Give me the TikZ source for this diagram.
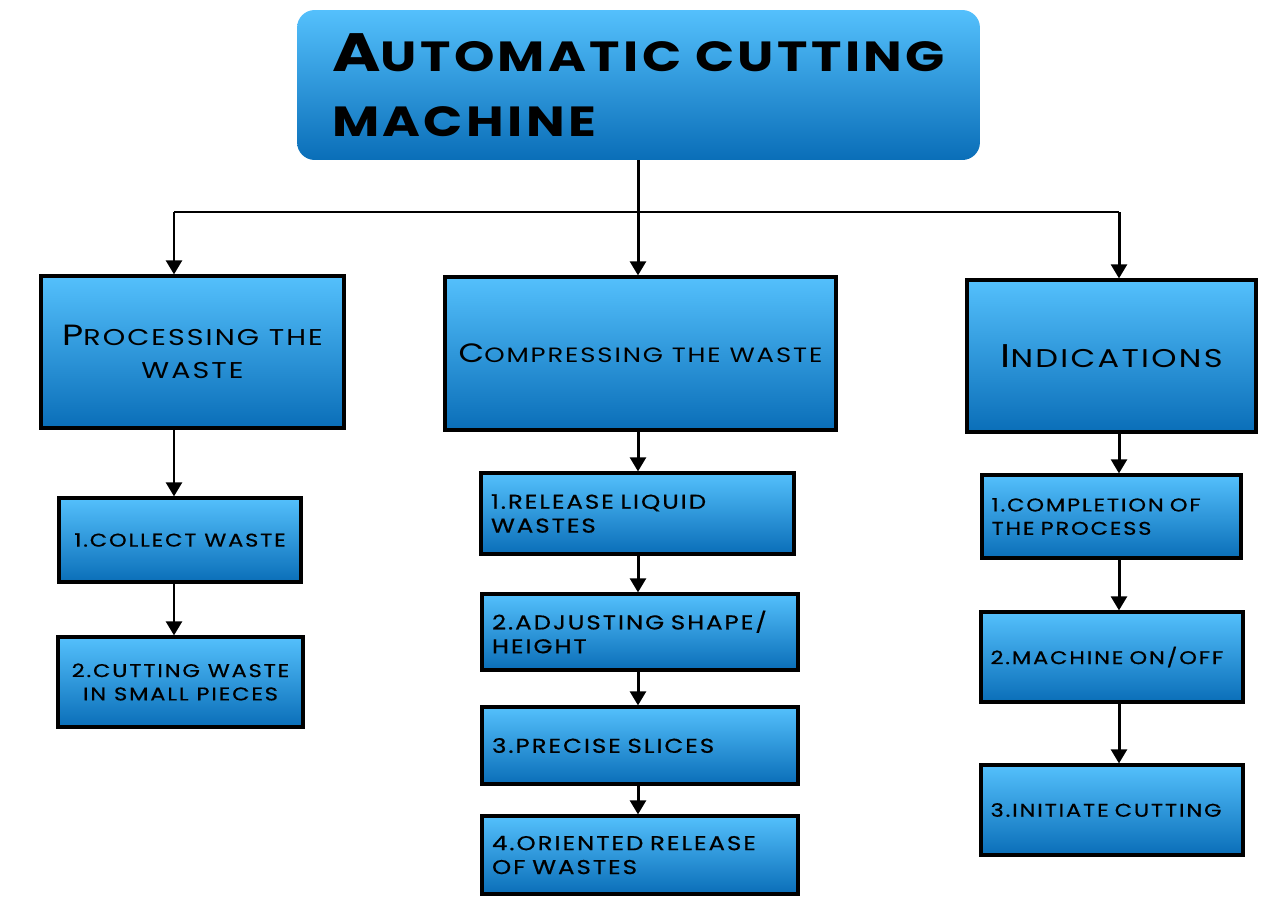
\documentclass[tikz,border=0pt]{standalone}
\usepackage{fontspec}
\newfontfamily\titlefont[FakeStretch=1.22,LetterSpace=8]{Poppins}
\newfontfamily\headfont[FakeStretch=1.25,LetterSpace=9]{Poppins}
\newfontfamily\itemfont[FakeStretch=1.22,LetterSpace=10,FakeBold=0.6]{Poppins}
\usetikzlibrary{arrows.meta,positioning}

\definecolor{boxtop}{RGB}{84,192,252}
\definecolor{boxbot}{RGB}{10,110,184}
\newcommand\bigini[1]{\scalebox{1.28}{#1}}

\begin{document}
\begin{tikzpicture}[
		x=0.02cm,
		y=-0.02cm,
		>={Triangle[width=9pt,length=8pt]},
		conn/.style={line width=1.7pt},
		arr/.style={->, line width=1.7pt},
		titlebox/.style={rounded corners=10pt, top color=boxtop, bottom color=boxbot, inner sep=0pt, align=left, font=\titlefont\bfseries\fontsize{24}{37}\selectfont},
		headbox/.style={draw=black, line width=1.8pt, top color=boxtop, bottom color=boxbot, inner sep=0pt, align=center, font=\headfont\fontsize{12}{19}\selectfont},
		itembox/.style={draw=black, line width=1.8pt, top color=boxtop, bottom color=boxbot, inner sep=0pt, align=center, font=\itemfont\fontsize{10.5}{13.3}\selectfont},
		leftitem/.style={itembox, align=left},
		miditem/.style={leftitem, font=\itemfont\fontsize{11.4}{13.6}\selectfont}
	]
	
	\useasboundingbox (0,0) rectangle (1280,903);
	
	% Title
	\node[titlebox, minimum width=13.66cm, minimum height=3cm, text width=12.26cm] (title) at (638.5,85)
	{\bigini{A}UTOMATIC CUTTING\\MACHINE};
	
	% Main branches
	\node[headbox, minimum width=6.06cm, minimum height=3.04cm, font=\headfont\fontsize{13}{19}\selectfont] (proc) at (192.5,352)
	{\bigini{P}ROCESSING THE\\WASTE};
	\node[headbox, minimum width=7.82cm, minimum height=3.06cm, font=\headfont\fontsize{11.8}{19}\selectfont] (comp) at (640.5,353.5)
	{\bigini{C}OMPRESSING THE WASTE};
	\node[headbox, minimum width=5.78cm, minimum height=3.04cm, font=\headfont\fontsize{14.6}{19}\selectfont] (ind) at (1111.5,356)
	{\bigini{I}NDICATIONS};
	
	% Processing steps
	\node[itembox, minimum width=4.84cm, minimum height=1.68cm] (collect) at (180,540)
	{1.COLLECT WASTE};
	\node[itembox, minimum width=4.9cm, minimum height=1.8cm] (cutting) at (180.5,682)
	{2.CUTTING WASTE\\IN SMALL PIECES};
	
	% Compressing steps
	\node[miditem, minimum width=6.26cm, minimum height=1.62cm, text width=5.86cm] (release) at (637.5,513.5)
	{1.RELEASE LIQUID\\WASTES};
	\node[miditem, minimum width=6.32cm, minimum height=1.52cm, text width=5.92cm] (adjust) at (640,632)
	{2.ADJUSTING SHAPE/\\HEIGHT};
	\node[miditem, minimum width=6.32cm, minimum height=1.54cm, text width=5.92cm] (precise) at (640,745.5)
	{3.PRECISE SLICES};
	\node[miditem, minimum width=6.32cm, minimum height=1.56cm, text width=5.92cm] (oriented) at (640,855)
	{4.ORIENTED RELEASE\\OF WASTES};
	
	% Indication steps
	\node[leftitem, minimum width=5.18cm, minimum height=1.66cm, text width=4.8cm] (complete) at (1111.5,516.5)
	{1.COMPLETION OF\\THE PROCESS};
	\node[leftitem, minimum width=5.24cm, minimum height=1.8cm, text width=4.86cm] (machine) at (1112,657)
	{2.MACHINE ON/OFF};
	\node[leftitem, minimum width=5.24cm, minimum height=1.8cm, text width=4.86cm] (initiate) at (1112,810)
	{3.INITIATE CUTTING};
	
	% Bus
	\coordinate (busL) at (174,212);
	\coordinate (busM) at (638,212);
	\coordinate (busR) at (1119,212);
	\draw[conn] (title.south -| busM) -- (busM);
	\draw[conn] (busL) -- (busR);
	\draw[arr] (busL) -- (busL |- proc.north);
	\draw[arr] (busM) -- (busM |- comp.north);
	\draw[arr] (busR) -- (busR |- ind.north);
	
	% Column arrows
	\foreach \a/\b in {proc/collect, collect/cutting} {
		\draw[arr] (busL |- \a.south) -- (busL |- \b.north);
	}
	\foreach \a/\b in {comp/release, release/adjust, adjust/precise, precise/oriented} {
		\draw[arr] (busM |- \a.south) -- (busM |- \b.north);
	}
	\foreach \a/\b in {ind/complete, complete/machine, machine/initiate} {
		\draw[arr] (busR |- \a.south) -- (busR |- \b.north);
	}
	
\end{tikzpicture}
\end{document}
